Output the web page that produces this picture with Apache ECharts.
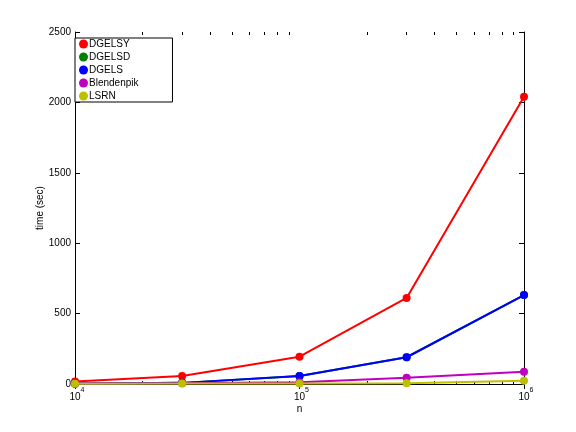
<!DOCTYPE html>
<html><head><meta charset="utf-8">
<script src="https://cdn.jsdelivr.net/npm/echarts@6/dist/echarts.min.js"></script>
<style>html,body{margin:0;padding:0;background:#fff}#c{width:576px;height:432px}</style>
</head><body><div id="c"></div>
<script>
const nValues = [1e4, 3e4, 1e5, 3e5, 1e6];
const seriesNames = ['DGELSY', 'DGELSD', 'DGELS', 'Blendenpik', 'LSRN'];
const dgelsy = [17, 57, 194, 611, 2040];
const dgelsd = [2, 8, 57, 190, 632];
const dgels = [2, 8, 57, 190, 632];
const blendenpik = [3, 5, 12, 45, 87];
const lsrn = [2, 3, 3, 5, 23];
const xMajorTicks = [1e4, 1e5, 1e6];
const xMinorTicks = [2e4,3e4,4e4,5e4,6e4,7e4,8e4,9e4,2e5,3e5,4e5,5e5,6e5,7e5,8e5,9e5];
const yTicks = [0, 500, 1000, 1500, 2000, 2500];
const colors = ['#ff0000', '#008000', '#0000ff', '#bf00bf', '#bfbf00'];
const allValues = [dgelsy, dgelsd, dgels, blendenpik, lsrn];

const font = 'Liberation Sans, Arial, sans-serif';
const chart = echarts.init(document.getElementById('c'), null, {renderer: 'canvas'});
const grid = {left: 75, right: 52, top: 32, bottom: 48, containLabel: false};
const lineAxis = {show: true, lineStyle: {color: '#000', width: 1}};
function xAxisDef(pos, opts) {
  return Object.assign({
    type: 'log', logBase: 10, min: 1e4, max: 1e6, position: pos,
    axisLine: lineAxis, splitLine: {show: false},
    axisTick: {show: true, inside: true, length: 5, lineStyle: {color: '#000'}, customValues: xMajorTicks},
    axisLabel: {show: false}
  }, opts || {});
}
const option = {
  animation: false,
  backgroundColor: '#fff',
  grid: grid,
  legend: {
    orient: 'vertical', left: 75, top: 38,
    padding: [1, 34, 1, 4], itemGap: 3, itemWidth: 9, itemHeight: 9,
    icon: 'circle', borderColor: '#000', borderWidth: 1, backgroundColor: '#fff',
    textStyle: {fontFamily: font, fontSize: 10, color: '#000', padding: [0, 0, 0, -4], lineHeight: 10},
    data: seriesNames
  },
  xAxis: [
    xAxisDef('bottom', {
      name: 'n', nameLocation: 'middle', nameGap: 20, nameMoveOverlap: false,
      nameTextStyle: {fontFamily: font, fontSize: 10, color: '#000'},
      axisLabel: {show: true, customValues: xMajorTicks, margin: 3,
        formatter: v => '{s|' + Math.round(Math.log10(v)) + '}\n{b|10}',
        rich: {b: {fontFamily: font, fontSize: 10, color: '#000', lineHeight: 8},
               s: {fontFamily: font, fontSize: 7, color: '#000', lineHeight: 6, padding: [0, 0, 0, 15]}}}
    }),
    xAxisDef('top'),
    xAxisDef('bottom', {axisLine: {show: false}, axisTick: {show: true, inside: true, length: 3, lineStyle: {color: '#000'}, customValues: xMinorTicks}}),
    xAxisDef('top', {axisLine: {show: false}, axisTick: {show: true, inside: true, length: 3, lineStyle: {color: '#000'}, customValues: xMinorTicks}})
  ],
  yAxis: [
    {type: 'value', min: 0, max: 2500, interval: 500, position: 'left',
     name: 'time (sec)', nameLocation: 'middle', nameGap: 30, nameMoveOverlap: false,
     nameTextStyle: {fontFamily: font, fontSize: 10, color: '#000'},
     axisLine: lineAxis, splitLine: {show: false},
     axisTick: {show: true, inside: true, length: 5, lineStyle: {color: '#000'}},
     axisLabel: {fontFamily: font, fontSize: 10, color: '#000', margin: 4, customValues: yTicks, formatter: v => String(v)}},
    {type: 'value', min: 0, max: 2500, interval: 500, position: 'right',
     axisLine: lineAxis, splitLine: {show: false},
     axisTick: {show: true, inside: true, length: 5, lineStyle: {color: '#000'}},
     axisLabel: {show: false}}
  ],
  series: seriesNames.map((name, i) => ({
    name: name, type: 'line', xAxisIndex: 0, yAxisIndex: 0,
    data: nValues.map((x, j) => [x, allValues[i][j]]),
    symbol: 'circle', symbolSize: 8, showSymbol: true,
    lineStyle: {color: colors[i], width: 2},
    itemStyle: {color: colors[i]},
    z: 2 + i
  }))
};
chart.setOption(option);
</script></body></html>
